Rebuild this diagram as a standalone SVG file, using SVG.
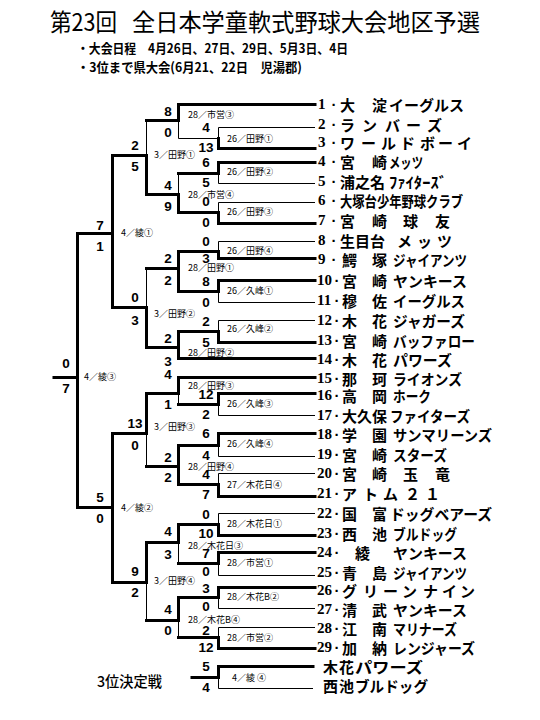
<svg xmlns="http://www.w3.org/2000/svg" width="540" height="720" viewBox="0 0 540 720">
<style>
.k{stroke:#000;stroke-width:3;fill:none;stroke-linecap:square}
.t{stroke:#000;stroke-width:1;fill:none}
text{font-family:"Noto Sans CJK JP",sans-serif;fill:#000;dominant-baseline:central}
.nm{font-size:15px;font-weight:700}
.no{font-family:"Liberation Serif","Noto Sans CJK JP",serif;font-size:15px;font-weight:700}
.dt{font-family:"Liberation Sans",sans-serif;font-size:15px;font-weight:700;text-anchor:middle}
.sc{font-family:"Liberation Sans",sans-serif;font-size:13.5px;font-weight:700;text-anchor:middle}
.lb{font-size:9px}
.ti{font-size:24px}
.sub{font-size:13px;font-weight:700}
</style>
<rect width="540" height="720" fill="#fff"/>
<g id="title">
<text class="ti" x="50" y="20" textLength="67" lengthAdjust="spacingAndGlyphs">第23回</text>
<text class="ti" x="132" y="20" textLength="348" lengthAdjust="spacingAndGlyphs">全日本学童軟式野球大会地区予選</text>
<text class="sub" x="77" y="47" textLength="271" lengthAdjust="spacingAndGlyphs">・大会日程　4月26日、27日、29日、5月3日、4日</text>
<text class="sub" x="77" y="66" textLength="225" lengthAdjust="spacingAndGlyphs">・3位まで県大会(6月21、22日　児湯郡)</text>
</g>
<g id="connectors">
<path class="k" d="M178.5 104.5H315"/>
<path class="t" d="M218.5 127.5H315"/>
<path class="k" d="M218.5 148.5H315"/>
<path class="k" d="M218.5 162.5H315"/>
<path class="t" d="M218.5 183.5H315"/>
<path class="t" d="M218.5 202.5H315"/>
<path class="k" d="M218.5 223.5H315"/>
<path class="t" d="M218.5 241.5H315"/>
<path class="k" d="M218.5 258.5H315"/>
<path class="k" d="M218.5 280.5H315"/>
<path class="t" d="M218.5 302.5H315"/>
<path class="t" d="M218.5 320.5H315"/>
<path class="k" d="M218.5 342.5H315"/>
<path class="k" d="M178.5 358.5H315"/>
<path class="k" d="M178.5 377.5H315"/>
<path class="k" d="M218.5 393.5H315"/>
<path class="t" d="M218.5 415.5H315"/>
<path class="k" d="M218.5 433.5H315"/>
<path class="t" d="M218.5 456.5H315"/>
<path class="t" d="M218.5 473.5H315"/>
<path class="k" d="M218.5 496.5H315"/>
<path class="t" d="M218.5 513.5H315"/>
<path class="k" d="M218.5 535.5H315"/>
<path class="k" d="M218.5 552.5H315"/>
<path class="t" d="M218.5 575.5H315"/>
<path class="k" d="M218.5 587.5H315"/>
<path class="t" d="M218.5 608.5H315"/>
<path class="t" d="M218.5 627.5H315"/>
<path class="k" d="M218.5 648.5H315"/>
<path class="k" d="M218.5 666.5H313"/>
<path class="t" d="M218.5 688.5H313"/>
<path class="t" d="M218.5 127.5V138.5M178.5 138.5H218.5"/><path class="k" d="M218.5 138.5V148.5"/>
<path class="k" d="M218.5 162.5V173.5M178.5 173.5H218.5"/><path class="t" d="M218.5 173.5V183.5"/>
<path class="t" d="M218.5 202.5V212.5"/><path class="k" d="M218.5 212.5V223.5M178.5 212.5H218.5"/>
<path class="t" d="M218.5 241.5V251.5"/><path class="k" d="M218.5 251.5V258.5M178.5 251.5H218.5"/>
<path class="k" d="M218.5 280.5V291.5M178.5 291.5H218.5"/><path class="t" d="M218.5 291.5V302.5"/>
<path class="t" d="M218.5 320.5V331.5"/><path class="k" d="M218.5 331.5V342.5M178.5 331.5H218.5"/>
<path class="k" d="M218.5 393.5V404.5M178.5 404.5H218.5"/><path class="t" d="M218.5 404.5V415.5"/>
<path class="k" d="M218.5 433.5V445.5M178.5 445.5H218.5"/><path class="t" d="M218.5 445.5V456.5"/>
<path class="t" d="M218.5 473.5V484.5"/><path class="k" d="M218.5 484.5V496.5M178.5 484.5H218.5"/>
<path class="t" d="M218.5 513.5V524.5"/><path class="k" d="M218.5 524.5V535.5M178.5 524.5H218.5"/>
<path class="k" d="M218.5 552.5V563.5M178.5 563.5H218.5"/><path class="t" d="M218.5 563.5V575.5"/>
<path class="k" d="M218.5 587.5V597.5M178.5 597.5H218.5"/><path class="t" d="M218.5 597.5V608.5"/>
<path class="t" d="M218.5 627.5V637.5"/><path class="k" d="M218.5 637.5V648.5M178.5 637.5H218.5"/>
<path class="k" d="M218.5 666.5V677.5M192 677.5H218.5"/><path class="t" d="M218.5 677.5V688.5"/>
<path class="k" d="M178.5 104.5V120.5M146.5 120.5H178.5"/><path class="t" d="M178.5 120.5V138.5"/>
<path class="t" d="M178.5 173.5V194.5"/><path class="k" d="M178.5 194.5V212.5M146.5 194.5H178.5"/>
<path class="k" d="M178.5 251.5V291.5M146.5 268.5H178.5"/>
<path class="k" d="M178.5 331.5V358.5M146.5 347.5H178.5"/>
<path class="k" d="M178.5 377.5V393.5M146.5 393.5H178.5"/><path class="t" d="M178.5 393.5V404.5"/>
<path class="k" d="M178.5 445.5V484.5M146.5 466.5H178.5"/>
<path class="k" d="M178.5 524.5V542.5M146.5 542.5H178.5"/><path class="t" d="M178.5 542.5V563.5"/>
<path class="k" d="M178.5 597.5V620.5M146.5 620.5H178.5"/><path class="t" d="M178.5 620.5V637.5"/>
<path class="t" d="M146.5 120.5V155.5"/><path class="k" d="M146.5 155.5V194.5M112.5 155.5H146.5"/>
<path class="t" d="M146.5 268.5V307.5"/><path class="k" d="M146.5 307.5V347.5M112.5 307.5H146.5"/>
<path class="k" d="M146.5 393.5V433.5M112.5 433.5H146.5"/><path class="t" d="M146.5 433.5V466.5"/>
<path class="k" d="M146.5 542.5V582.5M112.5 582.5H146.5"/><path class="t" d="M146.5 582.5V620.5"/>
<path class="k" d="M112.5 155.5V307.5M77.5 233.5H112.5"/>
<path class="k" d="M112.5 433.5V582.5M77.5 507.5H112.5"/>
<path class="k" d="M77.5 233.5V507.5M54 377.5H77.5"/>
</g>
<g id="scores">
<text class="sc" x="206" y="127">4</text><text class="sc" x="206" y="147">13</text>
<text class="sc" x="206" y="162">6</text><text class="sc" x="206" y="182">5</text>
<text class="sc" x="206" y="201">0</text><text class="sc" x="206" y="222">0</text>
<text class="sc" x="206" y="241">0</text><text class="sc" x="206" y="258">3</text>
<text class="sc" x="206" y="281">8</text><text class="sc" x="206" y="302">0</text>
<text class="sc" x="206" y="321">2</text><text class="sc" x="206" y="342">5</text>
<text class="sc" x="206" y="394">12</text><text class="sc" x="206" y="414">2</text>
<text class="sc" x="206" y="433">6</text><text class="sc" x="206" y="455">4</text>
<text class="sc" x="206" y="474">4</text><text class="sc" x="206" y="494">7</text>
<text class="sc" x="206" y="514">0</text><text class="sc" x="206" y="533">10</text>
<text class="sc" x="206" y="553">7</text><text class="sc" x="206" y="571">0</text>
<text class="sc" x="206" y="588">3</text><text class="sc" x="206" y="606">0</text>
<text class="sc" x="206" y="630">2</text><text class="sc" x="206" y="647">12</text>
<text class="sc" x="206" y="666">5</text><text class="sc" x="206" y="687">4</text>
<text class="sc" x="168" y="111">8</text><text class="sc" x="168" y="132">0</text>
<text class="sc" x="168" y="185">4</text><text class="sc" x="168" y="206">9</text>
<text class="sc" x="168" y="258">2</text><text class="sc" x="168" y="280">2</text>
<text class="sc" x="168" y="338">2</text><text class="sc" x="168" y="361">3</text>
<text class="sc" x="168" y="374">4</text><text class="sc" x="168" y="404">1</text>
<text class="sc" x="168" y="457">2</text><text class="sc" x="168" y="477">2</text>
<text class="sc" x="168" y="531">4</text><text class="sc" x="168" y="554">3</text>
<text class="sc" x="168" y="609">4</text><text class="sc" x="168" y="630">0</text>
<text class="sc" x="135" y="145">2</text><text class="sc" x="135" y="166">5</text>
<text class="sc" x="135" y="297">0</text><text class="sc" x="135" y="320">3</text>
<text class="sc" x="135" y="423">13</text><text class="sc" x="135" y="445">0</text>
<text class="sc" x="135" y="571">9</text><text class="sc" x="135" y="592">2</text>
<text class="sc" x="100" y="225">7</text><text class="sc" x="100" y="246">1</text>
<text class="sc" x="100" y="497">5</text><text class="sc" x="100" y="518">0</text>
<text class="sc" x="66" y="363">0</text><text class="sc" x="66" y="388">7</text>
</g>
<g id="labels">
<text class="lb" x="188" y="114">28／市営③</text>
<text class="lb" x="227" y="138">26／田野①</text>
<text class="lb" x="154" y="154">3／田野①</text>
<text class="lb" x="227" y="171">26／田野②</text>
<text class="lb" x="188" y="194">28／市営④</text>
<text class="lb" x="227" y="211">26／田野③</text>
<text class="lb" x="121" y="232">4／綾①</text>
<text class="lb" x="227" y="250">26／田野④</text>
<text class="lb" x="188" y="267">28／田野①</text>
<text class="lb" x="227" y="290">26／久峰①</text>
<text class="lb" x="154" y="313">3／田野②</text>
<text class="lb" x="227" y="328">26／久峰②</text>
<text class="lb" x="188" y="352">28／田野②</text>
<text class="lb" x="84" y="376">4／綾③</text>
<text class="lb" x="188" y="385">28／田野③</text>
<text class="lb" x="227" y="403">26／久峰③</text>
<text class="lb" x="154" y="426">3／田野③</text>
<text class="lb" x="227" y="443">26／久峰④</text>
<text class="lb" x="188" y="466">28／田野④</text>
<text class="lb" x="227" y="484">27／木花日④</text>
<text class="lb" x="121" y="507">4／綾②</text>
<text class="lb" x="227" y="523">28／木花日①</text>
<text class="lb" x="188" y="545">28／木花日③</text>
<text class="lb" x="227" y="562">28／市営①</text>
<text class="lb" x="154" y="580">3／田野④</text>
<text class="lb" x="227" y="596">28／木花B②</text>
<text class="lb" x="188" y="619">28／木花B④</text>
<text class="lb" x="227" y="637">28／市営②</text>
<text class="lb" x="232" y="677">4／綾 ④</text>
<text x="97" y="680" style="font-size:15px;font-weight:500" textLength="65" lengthAdjust="spacingAndGlyphs">3位決定戦</text>
</g>
<g id="team-1"><text class="no" x="318" y="104">1</text><text class="dt" x="334" y="104">·</text><text class="nm" x="340" y="104">大</text><text class="nm" x="372" y="104">淀</text><text class="nm" x="389" y="104" textLength="75" lengthAdjust="spacingAndGlyphs">イーグルス</text></g>
<g id="team-2"><text class="no" x="318" y="124">2</text><text class="dt" x="334" y="124">·</text><text class="nm" x="340" y="124">ラ</text><text class="nm" x="362" y="124">ン</text><text class="nm" x="385" y="124">バ</text><text class="nm" x="406" y="124">ー</text><text class="nm" x="427" y="124">ズ</text></g>
<g id="team-3"><text class="no" x="318" y="142">3</text><text class="dt" x="334" y="142">·</text><text class="nm" x="340" y="142">ワ</text><text class="nm" x="361" y="142">ー</text><text class="nm" x="381" y="142">ル</text><text class="nm" x="400" y="142">ド</text><text class="nm" x="420" y="142">ボ</text><text class="nm" x="438" y="142">ー</text><text class="nm" x="457" y="142">イ</text></g>
<g id="team-4"><text class="no" x="318" y="161">4</text><text class="dt" x="334" y="161">·</text><text class="nm" x="340" y="161">宮</text><text class="nm" x="372" y="161">崎</text><text class="nm" x="389" y="161" textLength="34" lengthAdjust="spacingAndGlyphs">メッツ</text></g>
<g id="team-5"><text class="no" x="318" y="181">5</text><text class="dt" x="334" y="181">·</text><text class="nm" x="340" y="181">浦之名</text><text class="nm" x="389" y="181" textLength="58" lengthAdjust="spacingAndGlyphs">ﾌｧｲﾀｰｽﾞ</text></g>
<g id="team-6"><text class="no" x="318" y="200">6</text><text class="dt" x="334" y="200">·</text><text class="nm" x="340" y="200" textLength="123" lengthAdjust="spacingAndGlyphs">大塚台少年野球クラブ</text></g>
<g id="team-7"><text class="no" x="318" y="220">7</text><text class="dt" x="334" y="220">·</text><text class="nm" x="340" y="220">宮</text><text class="nm" x="372" y="220">崎</text><text class="nm" x="403" y="220">球</text><text class="nm" x="435" y="220">友</text></g>
<g id="team-8"><text class="no" x="318" y="240">8</text><text class="dt" x="334" y="240">·</text><text class="nm" x="340" y="240">生目台</text><text class="nm" x="397" y="240">メ</text><text class="nm" x="417" y="240">ッ</text><text class="nm" x="437" y="240">ツ</text></g>
<g id="team-9"><text class="no" x="318" y="259">9</text><text class="dt" x="334" y="259">·</text><text class="nm" x="342" y="259">鰐</text><text class="nm" x="372" y="259">塚</text><text class="nm" x="393" y="259" textLength="74" lengthAdjust="spacingAndGlyphs">ジャイアンツ</text></g>
<g id="team-10"><text class="no" x="317" y="280">10</text><text class="dt" x="337" y="280">·</text><text class="nm" x="342" y="280">宮</text><text class="nm" x="372" y="280">崎</text><text class="nm" x="393" y="280" textLength="74" lengthAdjust="spacingAndGlyphs">ヤンキース</text></g>
<g id="team-11"><text class="no" x="317" y="300">11</text><text class="dt" x="337" y="300">·</text><text class="nm" x="342" y="300">穆</text><text class="nm" x="372" y="300">佐</text><text class="nm" x="393" y="300" textLength="72" lengthAdjust="spacingAndGlyphs">イーグルス</text></g>
<g id="team-12"><text class="no" x="317" y="320">12</text><text class="dt" x="337" y="320">·</text><text class="nm" x="342" y="320">木</text><text class="nm" x="372" y="320">花</text><text class="nm" x="393" y="320" textLength="72" lengthAdjust="spacingAndGlyphs">ジャガーズ</text></g>
<g id="team-13"><text class="no" x="317" y="340">13</text><text class="dt" x="337" y="340">·</text><text class="nm" x="342" y="340">宮</text><text class="nm" x="372" y="340">崎</text><text class="nm" x="393" y="340" textLength="82" lengthAdjust="spacingAndGlyphs">バッファロー</text></g>
<g id="team-14"><text class="no" x="317" y="359">14</text><text class="dt" x="337" y="359">·</text><text class="nm" x="342" y="359">木</text><text class="nm" x="372" y="359">花</text><text class="nm" x="393" y="359" textLength="59" lengthAdjust="spacingAndGlyphs">パワーズ</text></g>
<g id="team-15"><text class="no" x="317" y="378">15</text><text class="dt" x="337" y="378">·</text><text class="nm" x="342" y="378">那</text><text class="nm" x="372" y="378">珂</text><text class="nm" x="393" y="378" textLength="69" lengthAdjust="spacingAndGlyphs">ライオンズ</text></g>
<g id="team-16"><text class="no" x="317" y="395">16</text><text class="dt" x="337" y="395">·</text><text class="nm" x="342" y="395">高</text><text class="nm" x="372" y="395">岡</text><text class="nm" x="393" y="395" textLength="38" lengthAdjust="spacingAndGlyphs">ホーク</text></g>
<g id="team-17"><text class="no" x="317" y="415">17</text><text class="dt" x="337" y="415">·</text><text class="nm" x="342" y="415">大久保</text><text class="nm" x="390" y="415" textLength="80" lengthAdjust="spacingAndGlyphs">ファイターズ</text></g>
<g id="team-18"><text class="no" x="317" y="434">18</text><text class="dt" x="337" y="434">·</text><text class="nm" x="342" y="434">学</text><text class="nm" x="372" y="434">園</text><text class="nm" x="393" y="434" textLength="99" lengthAdjust="spacingAndGlyphs">サンマリーンズ</text></g>
<g id="team-19"><text class="no" x="317" y="454">19</text><text class="dt" x="337" y="454">·</text><text class="nm" x="342" y="454">宮</text><text class="nm" x="372" y="454">崎</text><text class="nm" x="393" y="454" textLength="54" lengthAdjust="spacingAndGlyphs">スターズ</text></g>
<g id="team-20"><text class="no" x="317" y="473">20</text><text class="dt" x="337" y="473">·</text><text class="nm" x="342" y="473">宮</text><text class="nm" x="372" y="473">崎</text><text class="nm" x="403" y="473">玉</text><text class="nm" x="435" y="473">竜</text></g>
<g id="team-21"><text class="no" x="317" y="493">21</text><text class="dt" x="337" y="493">·</text><text class="nm" x="342" y="493">ア</text><text class="nm" x="363" y="493">ト</text><text class="nm" x="383" y="493">ム</text><text class="nm" x="405" y="493">２</text><text class="nm" x="425" y="493">１</text></g>
<g id="team-22"><text class="no" x="317" y="513">22</text><text class="dt" x="337" y="513">·</text><text class="nm" x="342" y="513">国</text><text class="nm" x="372" y="513">富</text><text class="nm" x="390" y="513" textLength="102" lengthAdjust="spacingAndGlyphs">ドッグベアーズ</text></g>
<g id="team-23"><text class="no" x="317" y="533">23</text><text class="dt" x="337" y="533">·</text><text class="nm" x="342" y="533">西</text><text class="nm" x="372" y="533">池</text><text class="nm" x="393" y="533" textLength="64" lengthAdjust="spacingAndGlyphs">ブルドッグ</text></g>
<g id="team-24"><text class="no" x="317" y="552">24</text><text class="dt" x="337" y="552">·</text><text class="nm" x="355" y="552">綾</text><text class="nm" x="393" y="552" textLength="74" lengthAdjust="spacingAndGlyphs">ヤンキース</text></g>
<g id="team-25"><text class="no" x="317" y="572">25</text><text class="dt" x="337" y="572">·</text><text class="nm" x="342" y="572">青</text><text class="nm" x="372" y="572">島</text><text class="nm" x="393" y="572" textLength="74" lengthAdjust="spacingAndGlyphs">ジャイアンツ</text></g>
<g id="team-26"><text class="no" x="317" y="590">26</text><text class="dt" x="337" y="590">·</text><text class="nm" x="342" y="590">グ</text><text class="nm" x="363" y="590">リ</text><text class="nm" x="383" y="590">ー</text><text class="nm" x="402" y="590">ン</text><text class="nm" x="423" y="590">ナ</text><text class="nm" x="442" y="590">イ</text><text class="nm" x="460" y="590">ン</text></g>
<g id="team-27"><text class="no" x="317" y="609">27</text><text class="dt" x="337" y="609">·</text><text class="nm" x="342" y="609">清</text><text class="nm" x="372" y="609">武</text><text class="nm" x="393" y="609" textLength="74" lengthAdjust="spacingAndGlyphs">ヤンキース</text></g>
<g id="team-28"><text class="no" x="317" y="628">28</text><text class="dt" x="337" y="628">·</text><text class="nm" x="342" y="628">江</text><text class="nm" x="372" y="628">南</text><text class="nm" x="393" y="628" textLength="64" lengthAdjust="spacingAndGlyphs">マリナーズ</text></g>
<g id="team-29"><text class="no" x="317" y="647">29</text><text class="dt" x="337" y="647">·</text><text class="nm" x="342" y="647">加</text><text class="nm" x="372" y="647">納</text><text class="nm" x="393" y="647" textLength="82" lengthAdjust="spacingAndGlyphs">レンジャーズ</text></g>
<g id="third-1"><text class="nm" x="323" y="666">木</text><text class="nm" x="339" y="666">花</text><text class="nm" x="355" y="666" textLength="68" lengthAdjust="spacingAndGlyphs">パワーズ</text></g>
<g id="third-2"><text class="nm" x="323" y="685">西</text><text class="nm" x="339" y="685">池</text><text class="nm" x="355" y="685" textLength="73" lengthAdjust="spacingAndGlyphs">ブルドッグ</text></g>
</svg>
